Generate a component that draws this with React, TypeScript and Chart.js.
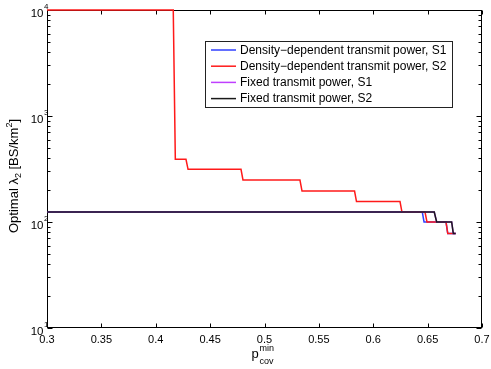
import React, { useEffect, useRef } from 'react';
import { Chart, registerables } from 'chart.js';

Chart.register(...registerables);

// ---- data ----
const xTickValues = [0.3, 0.35, 0.4, 0.45, 0.5, 0.55, 0.6, 0.65, 0.7];
const xTickLabels = ['0.3', '0.35', '0.4', '0.45', '0.5', '0.55', '0.6', '0.65', '0.7'];
const yDecadeValues = [10, 100, 1000, 10000];
const yDecadeExponents = ['1', '2', '3', '4'];

const seriesNames = [
  'Density\u2212dependent transmit power, S1',
  'Density\u2212dependent transmit power, S2',
  'Fixed transmit power, S1',
  'Fixed transmit power, S2',
];
const seriesColors = ['#2f3fff', '#ff1a1a', '#bf3fff', '#1a1a1a'];

const densS1X = [0.3, 0.6451, 0.6467, 0.6669, 0.6685, 0.6758];
const densS1Y = [124, 124, 100, 100, 78, 78];

const densS2X = [0.3, 0.4161, 0.418, 0.4278, 0.4297, 0.4784, 0.4802, 0.5326, 0.5345, 0.5828, 0.5846, 0.6246, 0.6264, 0.6476, 0.6494, 0.6669, 0.6685, 0.6758];
const densS2Y = [10000, 10000, 390, 390, 314, 314, 249, 249, 196, 196, 156, 156, 124, 124, 100, 100, 78, 78];

const fixedS1X = [0.3, 0.6561, 0.6583, 0.6721, 0.6736, 0.6758];
const fixedS1Y = [124, 124, 100, 100, 78, 78];

const fixedS2X = [0.3, 0.6561, 0.6583, 0.6721, 0.6736, 0.6758];
const fixedS2Y = [124, 124, 100, 100, 78, 78];

const FONT = '"Liberation Sans", Arial, Helvetica, sans-serif';

function pts(xs: number[], ys: number[]) {
  return xs.map((v, i) => ({ x: v, y: ys[i] }));
}

const axesPlugin = {
  id: 'matlabAxes',
  beforeDatasetsDraw(chart: any) {
    const { ctx, chartArea: a, scales } = chart;
    const xs = scales.x;
    const ys = scales.y;
    ctx.save();
    ctx.strokeStyle = '#000';
    ctx.lineWidth = 1;
    const L = Math.round(a.left) + 0.5;
    const R = Math.round(a.right) - 0.5;
    const T = Math.round(a.top) + 0.5;
    const B = Math.round(a.bottom) - 0.5;
    ctx.strokeRect(L, T, R - L, B - T);
    ctx.beginPath();
    // x ticks (inward, bottom and top)
    xTickValues.forEach((v) => {
      const px = Math.round(xs.getPixelForValue(v)) + 0.5;
      ctx.moveTo(px, B);
      ctx.lineTo(px, B - 4);
      ctx.moveTo(px, T);
      ctx.lineTo(px, T + 4);
    });
    // y ticks (major + minor)
    yDecadeValues.forEach((d, i) => {
      const py = Math.round(ys.getPixelForValue(d)) + 0.5;
      ctx.moveTo(L, py);
      ctx.lineTo(L + 5, py);
      ctx.moveTo(R, py);
      ctx.lineTo(R - 5, py);
      if (i < yDecadeValues.length - 1) {
        for (let m = 2; m <= 9; m++) {
          const my = Math.round(ys.getPixelForValue(d * m)) + 0.5;
          ctx.moveTo(L, my);
          ctx.lineTo(L + 3, my);
          ctx.moveTo(R, my);
          ctx.lineTo(R - 3, my);
        }
      }
    });
    ctx.stroke();
    ctx.restore();
  },
  afterDraw(chart: any) {
    const { ctx, chartArea: a, scales } = chart;
    const xs = scales.x;
    const ys = scales.y;
    ctx.save();
    ctx.fillStyle = '#000';
    // x tick labels
    ctx.font = `11px ${FONT}`;
    ctx.textAlign = 'center';
    ctx.textBaseline = 'middle';
    xTickValues.forEach((v, i) => {
      ctx.fillText(xTickLabels[i], xs.getPixelForValue(v), a.bottom + 12);
    });
    // y tick labels: 10^n
    yDecadeValues.forEach((d, i) => {
      const py = ys.getPixelForValue(d);
      ctx.font = `11.5px ${FONT}`;
      ctx.textAlign = 'right';
      ctx.textBaseline = 'middle';
      ctx.fillText('10', 43.5, py + 3.5);
      ctx.font = `8px ${FONT}`;
      ctx.textAlign = 'left';
      ctx.fillText(yDecadeExponents[i], 44, py - 3);
    });
    // x axis title: p_cov^min
    ctx.textBaseline = 'alphabetic';
    ctx.textAlign = 'left';
    ctx.font = `13px ${FONT}`;
    ctx.fillText('p', 251.5, 358);
    ctx.font = `9px ${FONT}`;
    ctx.fillText('min', 259.5, 351);
    ctx.fillText('cov', 259.5, 363.5);
    // y axis title (rotated)
    ctx.save();
    ctx.translate(17.5, 176);
    ctx.rotate(-Math.PI / 2);
    const big = `13px ${FONT}`;
    const small = `9px ${FONT}`;
    const parts: [string, string, number][] = [
      ['Optimal \u03bb', big, 0],
      ['2', small, 3],
      [' [BS/km', big, 0],
      ['2', small, -6],
      [']', big, 0],
    ];
    let total = 0;
    parts.forEach(([t, f]) => {
      ctx.font = f;
      total += ctx.measureText(t).width;
    });
    let cx = -total / 2;
    parts.forEach(([t, f, dy]) => {
      ctx.font = f;
      ctx.fillText(t, cx, dy);
      cx += ctx.measureText(t).width;
    });
    ctx.restore();
    // legend
    const lx = 205.5, ly = 41.5, lw = 247, lh = 66;
    ctx.fillStyle = '#fff';
    ctx.fillRect(lx, ly, lw, lh);
    ctx.strokeStyle = '#222';
    ctx.lineWidth = 1;
    ctx.strokeRect(lx, ly, lw, lh);
    ctx.font = `12px ${FONT}`;
    ctx.textBaseline = 'middle';
    ctx.textAlign = 'left';
    seriesNames.forEach((name, i) => {
      const yy = 50 + i * 16.2;
      ctx.strokeStyle = seriesColors[i];
      ctx.lineWidth = 1.5;
      ctx.beginPath();
      ctx.moveTo(211, yy);
      ctx.lineTo(236, yy);
      ctx.stroke();
      ctx.fillStyle = '#000';
      ctx.fillText(name, 240, yy + 0.5);
    });
    ctx.restore();
  },
};

export default function App() {
  const ref = useRef<HTMLCanvasElement | null>(null);
  useEffect(() => {
    document.body.style.margin = '0';
    const canvas = ref.current!;
    const chart = new Chart(canvas, {
      type: 'line',
      data: {
        datasets: [
          { label: seriesNames[0], data: pts(densS1X, densS1Y), borderColor: seriesColors[0], order: 4 },
          { label: seriesNames[1], data: pts(densS2X, densS2Y), borderColor: seriesColors[1], order: 3 },
          { label: seriesNames[2], data: pts(fixedS1X, fixedS1Y), borderColor: seriesColors[2], order: 2 },
          { label: seriesNames[3], data: pts(fixedS2X, fixedS2Y), borderColor: seriesColors[3], order: 1 },
        ].map((d) => ({ ...d, borderWidth: 1.5, pointRadius: 0, fill: false, tension: 0, clip: 2 })) as any,
      },
      options: {
        animation: false,
        responsive: false,
        devicePixelRatio: 1,
        layout: { padding: { left: 47, right: 9, top: 10, bottom: 41 } },
        plugins: { legend: { display: false }, tooltip: { enabled: false } },
        scales: {
          x: { type: 'linear', min: 0.3, max: 0.7, display: false },
          y: { type: 'logarithmic', min: 10, max: 10000, display: false },
        },
      },
      plugins: [axesPlugin],
    });
    return () => chart.destroy();
  }, []);
  return (
    <div style={{ width: 491, height: 369, background: '#fff' }}>
      <canvas ref={ref} width={491} height={369} style={{ display: 'block' }} />
    </div>
  );
}
